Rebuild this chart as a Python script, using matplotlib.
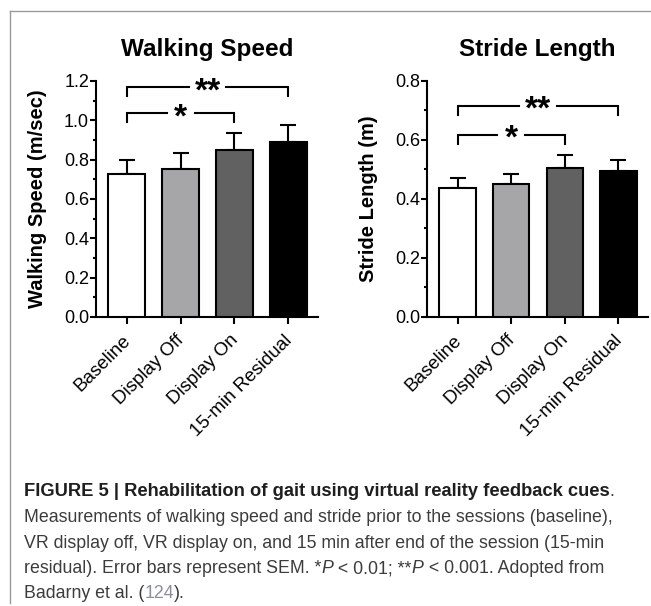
import numpy as np
import matplotlib
matplotlib.use('Agg')
import matplotlib.pyplot as plt
from matplotlib.ticker import MultipleLocator, AutoMinorLocator, FormatStrFormatter
from matplotlib.transforms import ScaledTranslation

# Data
categories = ['Baseline', 'Display Off', 'Display On', '15-min Residual']
bar_colors = ['#ffffff', '#a6a6a9', '#616161', '#000000']

speed = [0.727, 0.752, 0.847, 0.888]
speed_sem = [0.073, 0.080, 0.090, 0.087]

stride = [0.436, 0.450, 0.504, 0.494]
stride_sem = [0.034, 0.035, 0.045, 0.038]

# comparisons: (from, to, label)
comparisons = [(0, 3, '**'), (0, 2, '*')]
speed_bracket_y = [1.167, 1.035]
stride_bracket_y = [0.716, 0.617]

plt.rcParams['font.family'] = ['Liberation Sans', 'DejaVu Sans']

fig = plt.figure(figsize=(6.51, 6.06), dpi=100)

# frame lines (top and left)
fig.add_artist(plt.Line2D([10 / 651, 1], [1 - 11 / 606] * 2, color='#9a9a9a', lw=1.0))
fig.add_artist(plt.Line2D([10 / 651] * 2, [1 - 11 / 606, 1 - 603 / 606], color='#9a9a9a', lw=1.0))


def panel(ax, vals, sem, ymax, ystep, title, ylabel, bracket_y):
    x = np.arange(len(categories))
    ax.bar(x, vals, width=0.68, color=bar_colors, edgecolor='black', linewidth=1.5, zorder=3)
    ax.errorbar(x, vals, yerr=[np.zeros(len(vals)), sem], fmt='none', ecolor='black',
                elinewidth=1.5, capsize=6, capthick=1.5, zorder=2)
    ax.set_xlim(-0.57, 3.55)
    ax.set_ylim(0, ymax)
    ax.yaxis.set_major_locator(MultipleLocator(ystep))
    ax.yaxis.set_minor_locator(AutoMinorLocator(2))
    ax.yaxis.set_major_formatter(FormatStrFormatter('%.1f'))
    for s in ['top', 'right']:
        ax.spines[s].set_visible(False)
    for s in ['left', 'bottom']:
        ax.spines[s].set_linewidth(1.5)
    ax.tick_params(axis='y', which='major', length=4, width=1.5, labelsize=13, pad=1)
    ax.tick_params(axis='y', which='minor', length=2.5, width=1.5)
    ax.tick_params(axis='x', length=5, width=1.5, labelsize=13.5, pad=5.5)
    ax.set_xticks(x)
    ax.set_xticklabels(categories, rotation=45, ha='right', rotation_mode='anchor')
    shift = ScaledTranslation(-5 / 100, 0, fig.dpi_scale_trans)
    for lab in ax.get_xticklabels():
        lab.set_transform(lab.get_transform() + shift)
    ax.set_title(title, fontsize=17.5, fontweight='bold', pad=18)
    ax.set_ylabel(ylabel, fontsize=14.5, fontweight='bold')
    ax.yaxis.set_label_coords(-0.222, 0.5)
    leg = 0.038 * ymax
    for (a, b, lab), yb in zip(comparisons, bracket_y):
        mid = (a + b) / 2
        gap = (0.34 + 0.18 * len(lab)) / 2
        kw = dict(color='black', lw=1.5, clip_on=False, zorder=4, solid_joinstyle='miter')
        ax.plot([a, a, mid - gap], [yb - leg, yb, yb], **kw)
        ax.plot([mid + gap, b, b], [yb, yb, yb - leg], **kw)
        ax.annotate(lab, xy=(mid, yb), xytext=(0, -0.39 * 24), textcoords='offset points',
                    ha='center', va='baseline', fontsize=24, fontweight='bold', zorder=5,
                    annotation_clip=False)


ax1 = fig.add_axes([96 / 651, 1 - 317 / 606, 222 / 651, 236 / 606])
panel(ax1, speed, speed_sem, 1.2, 0.2, 'Walking Speed', 'Walking Speed (m/sec)', speed_bracket_y)

ax2 = fig.add_axes([427 / 651, 1 - 317 / 606, 221 / 651, 236 / 606])
panel(ax2, stride, stride_sem, 0.8, 0.2, 'Stride Length', 'Stride Length (m)', stride_bracket_y)

# caption
fig.canvas.draw()
renderer = fig.canvas.get_renderer()
dark = '#1e1e1e'
grey = '#3c3c3c'


def caption_line(y_px, parts):
    x = 24 / 651
    for txt, kw in parts:
        style = dict(fontsize=12.8, color=grey, va='center')
        style.update(kw)
        t = fig.text(x, 1 - y_px / 606, txt, **style)
        bb = t.get_window_extent(renderer)
        x += bb.width / fig.bbox.width


caption_line(492, [('FIGURE 5 | Rehabilitation of gait using virtual reality feedback cues',
                    dict(fontweight='bold', color=dark, fontsize=13.2)), ('.', {})])
caption_line(517.5, [('Measurements of walking speed and stride prior to the sessions (baseline),', {})])
caption_line(543, [('VR display off, VR display on, and 15 min after end of the session (15-min', {})])
caption_line(568.5, [('residual). Error bars represent SEM. *', {}), ('P', dict(style='italic')),
                     (' < 0.01; **', {}), ('P', dict(style='italic')),
                     (' < 0.001. Adopted from', {})])
caption_line(594, [('Badarny et al. (', {}), ('124', dict(color='#8a8f99')), (').', {})])

fig.savefig('out.png', dpi=100)
